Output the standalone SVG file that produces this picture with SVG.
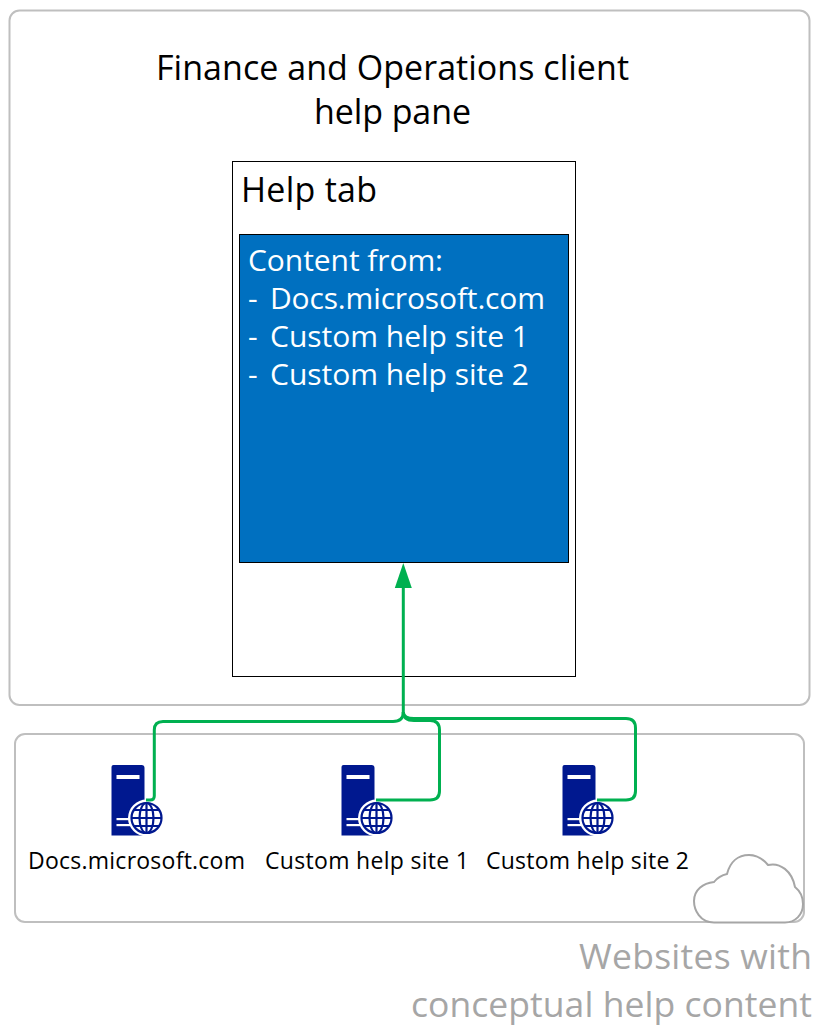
<svg xmlns="http://www.w3.org/2000/svg" width="824" height="1026" viewBox="0 0 824 1026">
<style>
text{font-family:"Open Sans","Noto Sans","Liberation Sans",sans-serif}
.panel{fill:#fff;stroke:#bfbfbf;stroke-width:2}
.t{font-size:34px;fill:#000}
.w{font-size:30px;fill:#fff}
.l{font-size:23px;fill:#000}
.g{font-size:35.500px;fill:#a6a6a6}
.c{fill:none;stroke:#00b050;stroke-width:3}
.sv{fill:#00188f}
.gl{fill:none;stroke:#00188f;stroke-width:2.200}
</style>
<defs>
<symbol id="server" width="54" height="72" viewBox="0 0 54 72" overflow="visible">
<path class="sv" d="M2 0H30Q33 0 33 3V70.500H0V2Q0 0 2 0Z"/>
<rect x="5" y="10" width="23" height="4" fill="#fff"/>
<rect x="5" y="53" width="14" height="2.200" fill="#fff"/><rect x="5" y="59" width="14" height="2.200" fill="#fff"/>
<circle cx="35" cy="53" r="18.500" fill="#fff"/>
<circle cx="35" cy="53" r="15" class="gl"/>
<ellipse cx="35" cy="53" rx="7" ry="15" class="gl"/>
<path class="gl" d="M35 38V68M20 53H50M22.500 45H47.500M22.500 61H47.500"/>
</symbol>
</defs>
<g id="help-pane"><rect class="panel" x="9.500" y="10.500" width="800" height="694.500" rx="10"/>
<text class="t" x="156" y="80" textLength="473">Finance and Operations client</text>
<text class="t" x="314" y="124" textLength="157">help pane</text></g>
<g id="help-tab"><rect x="232.500" y="161.500" width="343" height="515" fill="#fff" stroke="#000" stroke-width="1"/>
<text class="t" x="241" y="202" textLength="136">Help tab</text></g>
<g id="content"><rect x="239.500" y="234.500" width="329" height="328" fill="#0070c0" stroke="#000" stroke-width="1"/>
<text class="w" x="248" y="271" textLength="195">Content from:</text>
<text class="w" y="309"><tspan x="248">- </tspan><tspan x="270" textLength="275">Docs.microsoft.com</tspan></text>
<text class="w" y="347"><tspan x="248">- </tspan><tspan x="270" textLength="259">Custom help site 1</tspan></text>
<text class="w" y="385"><tspan x="248">- </tspan><tspan x="270" textLength="259">Custom help site 2</tspan></text></g>
<g id="websites"><rect class="panel" x="15" y="734" width="789" height="188" rx="10"/></g>
<g id="cloud"><path d="M714 922.500C700 922.500 694 910 694 901C694 890 703 883 714 882C718 877 722 875 727 874C730 862 738 855 749 855C756 855 763 859 768 865C780 862 792 871 795 887C800 891 803 897 803 904C803 915 795 922.500 785 922.500Z" fill="#fff" stroke="#a6a6a6" stroke-width="2"/></g>
<g id="docs-site"><use href="#server" x="111.500" y="765"/><text class="l" x="28" y="869" textLength="217">Docs.microsoft.com</text></g>
<g id="custom-site-1"><use href="#server" x="341.500" y="765"/><text class="l" x="265" y="869" textLength="204">Custom help site 1</text></g>
<g id="custom-site-2"><use href="#server" x="562.500" y="765"/><text class="l" x="486" y="869" textLength="203">Custom help site 2</text></g>
<g id="connectors">
<path class="c" d="M146 800H150Q154.300 800 154.300 796V730Q154.300 721.500 163 721.500H393Q403.300 721.500 403.300 712"/>
<path class="c" d="M376 800H430Q439.500 800 439.500 791V730Q439.500 720.500 430 720.500H414Q403.300 720.500 403.300 712"/>
<path class="c" d="M597 800H626Q635.500 800 635.500 791V728Q635.500 718.500 626 718.500H414Q403.300 718.500 403.300 712"/>
<path class="c" d="M403.300 712V580" />
<path d="M403.300 563L411.800 588H394.800Z" fill="#00b050"/>
</g>
<g id="caption"><text class="g" x="579" y="969" textLength="233">Websites with</text><text class="g" x="411" y="1017" textLength="401">conceptual help content</text></g>
</svg>
